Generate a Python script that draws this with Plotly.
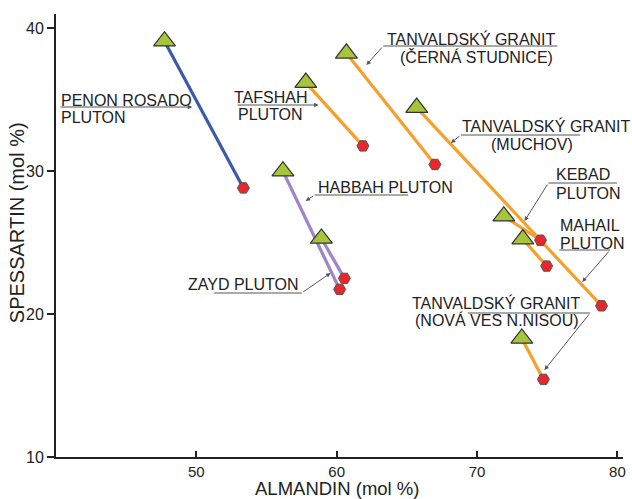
import plotly.graph_objects as go

# ---------------- data ----------------
plutons = ["PENON ROSADO", "TAFSHAH", "ČERNÁ STUDNICE", "MUCHOV", "KEBAD",
           "MAHAIL", "NOVÁ VES", "HABBAH", "ZAYD"]
core_almandin = [47.73, 57.80, 60.69, 65.70, 71.91, 73.26, 73.19, 56.17, 58.91]
core_spessartin = [39.10, 36.20, 38.25, 34.45, 26.85, 25.25, 18.30, 30.00, 25.30]
rim_almandin = [53.35, 61.87, 67.00, 78.87, 74.52, 74.96, 74.73, 60.21, 60.55]
rim_spessartin = [28.83, 31.77, 30.47, 20.58, 25.17, 23.36, 15.43, 21.73, 22.50]
line_colors = ["#3c5aa8", "#f5a02d", "#f5a02d", "#f5a02d", "#f5a02d",
               "#f5a02d", "#f5a02d", "#a084c8", "#a084c8"]

x_ticks = [50, 60, 70, 80]
y_ticks = [10, 20, 30, 40]
x_title = "ALMANDIN (mol %)"
y_title = "SPESSARTIN (mol %)"

# ---------------- layout geometry ----------------
W, H = 632, 499
ML, MR, MT, MB = 56, 6, 14, 42
XR = [40, 80.4]
YR = [10, 41]
PW, PH = W - ML - MR, H - MT - MB


def X(px):
    return XR[0] + (px - ML) * (XR[1] - XR[0]) / PW


def Y(py):
    return YR[0] + (H - MB - py) * (YR[1] - YR[0]) / PH


FONT = "Arial, 'Liberation Sans', sans-serif"
TXT = "#222222"

fig = go.Figure()
for i in range(len(plutons)):
    fig.add_trace(go.Scatter(
        x=[core_almandin[i], rim_almandin[i]],
        y=[core_spessartin[i], rim_spessartin[i]],
        mode="lines", line=dict(color=line_colors[i], width=3.2),
        showlegend=False, hoverinfo="skip"))

fig.add_trace(go.Scatter(
    x=rim_almandin, y=rim_spessartin, mode="markers", showlegend=False,
    marker=dict(symbol="hexagon2", size=12, color="#e8262b",
                line=dict(color="#555555", width=1))))
fig.add_trace(go.Scatter(
    x=core_almandin, y=core_spessartin, mode="markers", showlegend=False,
    marker=dict(symbol="triangle-up", size=19, color="#a6c43c",
                line=dict(color="#333333", width=1.2))))

# ---------------- labels ----------------
labels = [
    ("PENON ROSADO", 59, 100, "left"),
    ("PLUTON", 59, 117, "left"),
    ("TAFSHAH", 272, 97, "center"),
    ("PLUTON", 272, 114, "center"),
    ("TANVALDSKÝ GRANIT", 474, 39, "center"),
    ("(ČERNÁ STUDNICE)", 479, 57, "center"),
    ("TANVALDSKÝ GRANIT", 462, 126, "left"),
    ("(MUCHOV)", 535, 144, "center"),
    ("KEBAD", 557, 174, "left"),
    ("PLUTON", 557, 193, "left"),
    ("MAHAIL", 561, 225, "left"),
    ("PLUTON", 561, 243, "left"),
    ("TANVALDSKÝ GRANIT", 499, 303, "center"),
    ("(NOVÁ VES N.NISOU)", 499, 320, "center"),
    ("HABBAH PLUTON", 317, 187, "left"),
    ("ZAYD PLUTON", 302, 284, "right"),
]
for t, px, py, anc in labels:
    fig.add_annotation(x=X(px), y=Y(py), text=t, showarrow=False,
                       xanchor=anc, yanchor="middle",
                       font=dict(family=FONT, size=16, color=TXT))

# leader lines: (x0, y0, x1, y1, arrow at end)
leaders = [
    (59, 107, 193, 107, True),
    (237, 105, 320, 105, True),
    (385, 46, 560, 46, False),
    (385, 46, 368, 65, True),
    (463, 135, 583, 135, False),
    (463, 135, 453, 143, True),
    (551, 183, 620, 183, False),
    (551, 183, 527, 221, True),
    (562, 250, 613, 250, False),
    (613, 250, 585, 282, True),
    (470, 313, 593, 313, False),
    (593, 313, 547, 370, True),
    (316, 195, 410, 195, False),
    (316, 195, 307, 201, True),
    (215, 293, 303, 293, False),
    (303, 293, 332, 273, True),
]
for x0, y0, x1, y1, arr in leaders:
    if arr:
        fig.add_annotation(x=X(x1), y=Y(y1), ax=X(x0), ay=Y(y0),
                           xref="x", yref="y", axref="x", ayref="y",
                           text="", showarrow=True, arrowhead=2,
                           arrowsize=0.9, arrowwidth=1, arrowcolor="#555555")
    else:
        fig.add_shape(type="line", x0=X(x0), y0=Y(y0), x1=X(x1), y1=Y(y1),
                      xref="x", yref="y", line=dict(color="#555555", width=1))

# axis titles as annotations (y title slightly above centre like the reference)
fig.add_annotation(x=(17 - ML) / PW, y=(H - MB - 223) / PH, xref="paper", yref="paper",
                   text=y_title, textangle=-90, showarrow=False,
                   xanchor="center", yanchor="middle",
                   font=dict(family=FONT, size=20, color=TXT))
fig.add_annotation(x=(338 - ML) / PW, y=-(488.5 - (H - MB)) / PH, xref="paper", yref="paper",
                   text=x_title, showarrow=False, xanchor="center", yanchor="middle",
                   font=dict(family=FONT, size=18.5, color=TXT))

fig.update_layout(
    width=W, height=H, margin=dict(l=ML, r=MR, t=MT, b=MB),
    paper_bgcolor="white", plot_bgcolor="white",
    font=dict(family=FONT, size=16, color=TXT),
    xaxis=dict(range=XR, tickvals=x_ticks, ticks="inside", ticklen=6,
               tickwidth=1.5, tickcolor=TXT, showgrid=False, zeroline=False,
               showline=True, linecolor=TXT, linewidth=2,
               tickfont=dict(family=FONT, size=15, color=TXT)),
    yaxis=dict(range=YR, tickvals=y_ticks, ticks="outside", ticklen=7,
               tickwidth=1.5, tickcolor=TXT, showgrid=False, zeroline=False,
               showline=True, linecolor=TXT, linewidth=2,
               tickfont=dict(family=FONT, size=16, color=TXT)),
)

fig.write_html("out.html", config={"displayModeBar": False},
               post_script="document.body.style.margin='0';document.body.style.overflow='hidden';")
